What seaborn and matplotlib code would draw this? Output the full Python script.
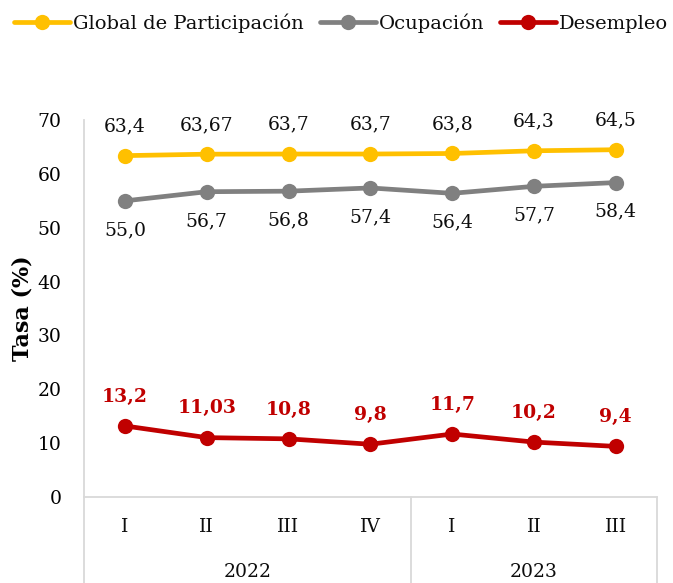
import numpy as np
import pandas as pd
import matplotlib.pyplot as plt
import seaborn as sns

anios = ['2022', '2022', '2022', '2022', '2023', '2023', '2023']
trimestres = ['I', 'II', 'III', 'IV', 'I', 'II', 'III']
global_part = [63.4, 63.67, 63.7, 63.7, 63.8, 64.3, 64.5]
ocupacion = [55.0, 56.7, 56.8, 57.4, 56.4, 57.7, 58.4]
desempleo = [13.2, 11.03, 10.8, 9.8, 11.7, 10.2, 9.4]

global_txt = ['63,4', '63,67', '63,7', '63,7', '63,8', '64,3', '64,5']
ocup_txt = ['55,0', '56,7', '56,8', '57,4', '56,4', '57,7', '58,4']
desem_txt = ['13,2', '11,03', '10,8', '9,8', '11,7', '10,2', '9,4']

series = ['Global de Participación', 'Ocupación', 'Desempleo']
colores = ['#FFC000', '#808080', '#C00000']

if __name__ == '__main__':
    sns.set_style('white')
    plt.rcParams['font.family'] = ['DejaVu Serif']
    fs = 13.5

    periodo = [a + '-' + t for a, t in zip(anios, trimestres)]
    df = pd.DataFrame({
        'periodo': periodo * 3,
        'tasa': global_part + ocupacion + desempleo,
        'serie': np.repeat(series, len(periodo)),
    })

    fig = plt.figure(figsize=(6.73, 5.83), dpi=100)
    ax = fig.add_axes([0.1248, 0.1475, 0.851, 0.6465])

    sns.lineplot(data=df, x='periodo', y='tasa', hue='serie', hue_order=series,
                 palette=colores, marker='o', markersize=11, linewidth=3.4,
                 markeredgewidth=0, ax=ax, legend=True)

    ax.set_xlim(-0.5, len(periodo) - 0.5)
    ax.set_ylim(0, 70)
    ax.set_yticks(range(0, 71, 10))
    ax.tick_params(axis='y', length=0, pad=16, labelsize=fs, labelcolor='black')
    ax.set_xticks([])
    ax.set_xlabel('')
    ax.set_ylabel('Tasa (%)', fontsize=16, fontweight='bold', color='black')
    ax.yaxis.set_label_coords(-0.089, 0.5)

    for s in ['top', 'right']:
        ax.spines[s].set_visible(False)
    for s in ['left', 'bottom']:
        ax.spines[s].set_color('#D9D9D9')
        ax.spines[s].set_linewidth(1.3)

    # etiquetas de datos
    for i in range(len(periodo)):
        ax.annotate(global_txt[i], (i, global_part[i]), xytext=(0, 21),
                    textcoords='offset points', ha='center', va='center',
                    fontsize=fs, color='#0d0d0d')
        ax.annotate(ocup_txt[i], (i, ocupacion[i]), xytext=(0, -21),
                    textcoords='offset points', ha='center', va='center',
                    fontsize=fs, color='#0d0d0d')
        ax.annotate(desem_txt[i], (i, desempleo[i]), xytext=(0, 21),
                    textcoords='offset points', ha='center', va='center',
                    fontsize=fs, color='#C00000', fontweight='bold')

    # eje x de dos niveles
    trans = ax.get_xaxis_transform()
    for i, t in enumerate(trimestres):
        ax.text(i, -0.08, t, transform=trans, ha='center', va='center',
                fontsize=fs, color='#0d0d0d')
    grupos = sorted(set(anios))
    for g in grupos:
        idx = [i for i, a in enumerate(anios) if a == g]
        ax.text(np.mean(idx), -0.2, g, transform=trans, ha='center', va='center',
                fontsize=fs, color='#0d0d0d')
    cortes = [-0.5] + [max(i for i, a in enumerate(anios) if a == g) + 0.5 for g in grupos]
    for c in cortes:
        ax.plot([c, c], [0, -0.25], transform=trans, color='#D9D9D9',
                linewidth=1.3, clip_on=False)

    handles, labels = ax.get_legend_handles_labels()
    ax.get_legend().remove()
    fig.legend(handles, labels, loc='upper center', bbox_to_anchor=(0.507, 1.0),
               ncol=3, frameon=False, fontsize=14, handlelength=2.9,
               handletextpad=0.15, columnspacing=0.8, borderaxespad=0.3,
               labelcolor='#0d0d0d')

    fig.savefig('out.png', dpi=100)
